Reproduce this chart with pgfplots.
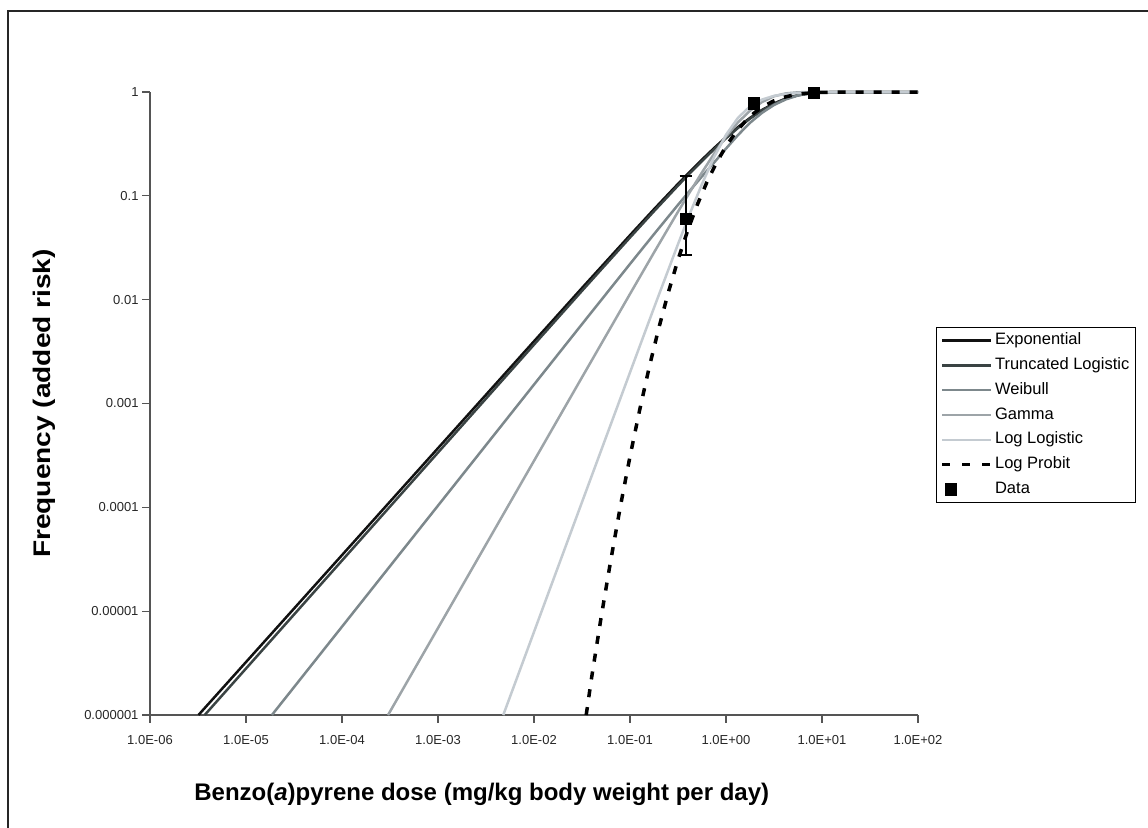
\documentclass[border=0pt]{standalone}
\usepackage{pgfplots}
\pgfplotsset{compat=1.18}
\usepackage{fontspec}
\setmainfont{Liberation Sans}
\usepackage{graphicx}
\definecolor{cExp}{HTML}{111111}
\definecolor{cTrunc}{HTML}{3A4343}
\definecolor{cWeib}{HTML}{7D888C}
\definecolor{cGam}{HTML}{9DA4A8}
\definecolor{cLL}{HTML}{C4CBD1}
\definecolor{cAxis}{HTML}{555555}
\pgfplotsset{
  longline/.style={legend image code/.code={\draw[##1] (0pt,0pt) -- (49pt,0pt);}},
}
\begin{document}
\begin{tikzpicture}
\useasboundingbox (-150pt,-112pt) rectangle (998pt,715pt);
\draw[line width=1.8pt, black!85] (-142pt,-115pt) -- (-142pt,704pt) -- (1000pt,704pt);
\begin{axis}[
  at={(0pt,0pt)}, anchor=south west,
  scale only axis, width=768pt, height=623pt,
  xmode=log, ymode=log,
  xmin=1e-6, xmax=100, ymin=1e-6, ymax=1,
  clip=false,
  axis lines=left,
  axis line style={-, line width=1.5pt, cAxis},
  tick align=outside, major tick length=8pt,
  tick style={line width=1.3pt, cAxis},
  xminorticks=false, yminorticks=false,
  xtick={1e-6,1e-5,1e-4,1e-3,1e-2,1e-1,1,10,100},
  xticklabels={1.0E-06,1.0E-05,1.0E-04,1.0E-03,1.0E-02,1.0E-01,1.0E+00,1.0E+01,1.0E+02},
  ytick={1e-6,1e-5,1e-4,1e-3,1e-2,1e-1,1},
  yticklabels={0.000001,0.00001,0.0001,0.001,0.01,0.1,1},
  tick label style={font=\fontsize{13}{15}\selectfont, black!85},
  xticklabel style={yshift=-9pt},
  xlabel={\bfseries Benzo(\textit{a})pyrene dose (mg/kg body weight per day)},
  xlabel style={font=\fontsize{24}{28}\selectfont, at={(axis description cs:0.432,-0.128)}, anchor=center},
  ylabel={\scalebox{1.17}[1]{\bfseries Frequency (added risk)}},
  ylabel style={font=\fontsize{24}{28}\selectfont, at={(axis description cs:-0.137,0.5)}, anchor=center},
  legend style={at={(1.0234,0.6228)}, anchor=north west, draw=black, line width=1.2pt,
    font=\fontsize{16.5}{18}\selectfont, row sep=6.8pt, inner sep=4pt,
    nodes={inner sep=2pt, text height=11pt, text depth=3pt}},
  legend cell align=left,
]
\addplot[cExp, line width=2.5pt, longline] coordinates {
(3.2e-6,1.0e-6) (1e-4,3.467e-5) (1e-3,3.715e-4) (1e-2,3.973e-3) (0.03162,0.01295)
(0.1,0.04176) (0.1778,0.0743) (0.3162,0.1303) (0.4217,0.1713) (0.5623,0.2232)
(0.7499,0.2880) (1,0.3669) (1.3335,0.4591) (1.7783,0.5627) (2.3714,0.6713)
(3.1623,0.7760) (4.217,0.8664) (5.623,0.9333) (7.499,0.9738) (10,0.99255)
(17.78,0.99986) (31.62,1.0) (100,1.0)};
\addlegendentry{Exponential}
\addplot[cTrunc, line width=2.5pt, longline] coordinates {
(3.715e-6,1.0e-6) (1e-4,3.072e-5) (1e-3,3.368e-4) (1e-2,3.687e-3) (0.03162,0.01216)
(0.1,0.03968) (0.1778,0.07105) (0.3162,0.1255) (0.4217,0.1655) (0.5623,0.2165)
(0.7499,0.2805) (1,0.3585) (1.3335,0.4506) (1.7783,0.5542) (2.3714,0.6637)
(3.1623,0.7702) (4.217,0.8624) (5.623,0.9312) (7.499,0.9729) (10,0.99232)
(17.78,0.99986) (31.62,1.0) (100,1.0)};
\addlegendentry{Truncated Logistic}
\addplot[cWeib, line width=2.5pt, longline] coordinates {
(1.862e-5,1.0e-6) (1e-4,7.09e-6) (1e-3,1.0387e-4) (1e-2,1.521e-3) (0.03162,5.812e-3)
(0.1,0.02206) (0.1778,0.04271) (0.3162,0.08188) (0.4217,0.1126) (0.5623,0.1539)
(0.7499,0.2084) (1,0.2850) (1.3335,0.3850) (1.7783,0.5050) (2.3714,0.6300)
(3.1623,0.7500) (4.217,0.8500) (5.623,0.9250) (7.499,0.9700) (10,0.9920)
(13.335,0.99878) (17.78,0.99992) (31.62,1.0) (100,1.0)};
\addlegendentry{Weibull}
\addplot[cGam, line width=2.5pt, longline] coordinates {
(3.018e-4,1.0e-6) (1e-3,6.878e-6) (3.162e-3,4.390e-5) (1e-2,2.803e-4) (0.03162,1.787e-3)
(0.1,0.01135) (0.1778,0.02843) (0.3162,0.07029) (0.4217,0.1094) (0.5623,0.1681)
(0.7499,0.2537) (1,0.3719) (1.3335,0.5100) (1.7783,0.6600) (2.3714,0.8000)
(3.1623,0.9100) (4.217,0.9700) (5.623,0.9930) (7.499,0.9990) (10,1.0) (100,1.0)};
\addlegendentry{Gamma}
\addplot[cLL, line width=2.5pt, longline] coordinates {
(4.786e-3,1.0e-6) (1e-2,6.31e-6) (0.03162,1.122e-4) (0.1,1.991e-3) (0.1778,8.344e-3)
(0.3162,0.03426) (0.4217,0.06793) (0.5623,0.1301) (0.7499,0.2351) (1,0.3869)
(1.3335,0.5644) (1.7783,0.7268) (2.3714,0.8453) (3.1623,0.9182) (4.217,0.9584)
(5.623,0.9793) (10,0.9950) (17.78,0.99881) (31.62,0.99972) (100,0.999984)};
\addlegendentry{Log Logistic}
\addplot[black, line width=3.5pt, dash pattern=on 8pt off 10pt,
  legend image code/.code={\draw[black, line width=3.5pt, dash pattern=on 8pt off 12pt] (0pt,0pt) -- (49pt,0pt);}]
 coordinates {
(0.035,1.0e-6) (0.0398,2.28e-6) (0.0501,8.8e-6) (0.0631,3.1e-5) (0.0794,1.02e-4)
(0.1,3.09e-4) (0.1259,8.6e-4) (0.1585,2.23e-3) (0.1995,5.32e-3) (0.2512,0.0118)
(0.3162,0.0242) (0.3981,0.0461) (0.5012,0.0817) (0.631,0.1348) (0.7943,0.2078)
(1,0.300) (1.259,0.4075) (1.585,0.522) (1.995,0.635) (2.512,0.738) (3.162,0.823)
(3.981,0.888) (5.012,0.934) (6.31,0.9638) (7.943,0.9815) (10,0.9913)
(15.85,0.9984) (25.12,0.9998) (39.81,1.0) (100,1.0)};
\addlegendentry{Log Probit}
\addplot[only marks, mark=square*, mark size=5.5pt, mark options={fill=black, draw=black},
  error bars/.cd, y dir=both, y explicit,
  error bar style={line width=2pt, black},
  error mark options={rotate=90, mark size=6pt, line width=2pt, black}]
 coordinates {
(0.38,0.06) += (0,0.095) -= (0,0.033)
(1.96,0.78) += (0,0.10) -= (0,0.08)
(8.2,0.98) += (0,0.01) -= (0,0.01)};
\addlegendentry{Data}
\end{axis}
\end{tikzpicture}
\end{document}
